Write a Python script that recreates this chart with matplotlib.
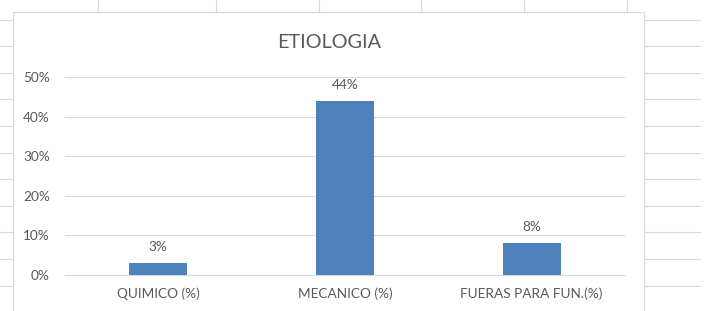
import matplotlib
matplotlib.use("Agg")
import matplotlib.pyplot as plt
from matplotlib.lines import Line2D
from matplotlib.ticker import FuncFormatter, MultipleLocator

categories = ["QUIMICO (%)", "MECANICO (%)", "FUERAS PARA FUN.(%)"]
values = [3, 44, 8]
labels = ["3%", "44%", "8%"]
title = "ETIOLOGIA"

W, H = 721, 311
plt.rcParams['font.family'] = ['Lato', 'DejaVu Sans']
fig = plt.figure(figsize=(W / 100, H / 100), dpi=100)
fig.patch.set_facecolor("white")

grid_c = "#D9D9D9"
text_c = "#595959"

def fx(x):
    return x / W

def fy(y):
    return 1 - y / H

# spreadsheet gridlines outside the chart
for x in [98, 216, 319, 421, 524, 627]:
    fig.add_artist(Line2D([fx(x), fx(x)], [fy(0), fy(12)], color=grid_c, lw=0.8))
for i in range(11):
    y = 19.5 + 26.6 * i
    fig.add_artist(Line2D([fx(0), fx(13)], [fy(y), fy(y)], color=grid_c, lw=0.8))
    fig.add_artist(Line2D([fx(644), fx(700)], [fy(y), fy(y)], color=grid_c, lw=0.8))

# chart border
fig.add_artist(Line2D([fx(13), fx(13), fx(644), fx(644)],
                      [fy(311), fy(12), fy(12), fy(311)], color=grid_c, lw=0.8))

ax = fig.add_axes([fx(65), fy(275), (625 - 65) / W, (275 - 77) / H])
x = range(len(categories))
bars = ax.bar(x, values, width=0.31, color="#4F81BD", zorder=3)
ax.set_xlim(-0.5, len(categories) - 0.5)
ax.set_ylim(0, 50)
ax.yaxis.set_major_locator(MultipleLocator(10))
ax.yaxis.set_major_formatter(FuncFormatter(lambda v, p: f"{int(v)}%"))
ax.grid(axis="y", color=grid_c, lw=0.8, zorder=0)
for s in ax.spines.values():
    s.set_visible(False)
ax.spines["bottom"].set_visible(True)
ax.spines["bottom"].set_color(grid_c)
ax.spines["bottom"].set_linewidth(0.8)
ax.tick_params(axis="both", length=0, colors=text_c, labelsize=9.8)
ax.tick_params(axis="y", pad=11)
ax.tick_params(axis="x", pad=9)
ax.set_xticks(list(x))
ax.set_xticklabels(categories)

for xi, v, lab in zip(x, values, labels):
    ax.annotate(lab, (xi, v), xytext=(0, 11.5), textcoords="offset points",
                ha="center", va="center", fontsize=9.8, color=text_c)

fig.text(fx(329), fy(42), title, ha="center", va="center", fontsize=14.3, color=text_c)

fig.savefig("out.png", dpi=100)
